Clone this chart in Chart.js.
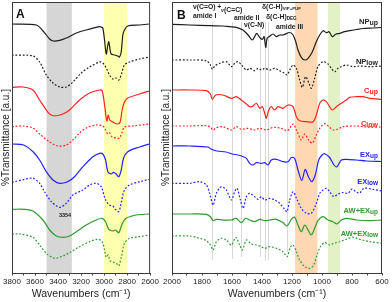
<!DOCTYPE html>
<html><head><meta charset="utf-8">
<script src="https://cdn.jsdelivr.net/npm/chart.js@4.4.1/dist/chart.umd.min.js"></script>
<style>
html,body{margin:0;padding:0;background:#fff;}
#wrap{position:relative;width:392px;height:302px;overflow:hidden;background:#fff;}
canvas{position:absolute;top:0;}
#ca{left:0}
#cb{left:160px}
</style></head><body>
<div id="wrap"><canvas id="ca" width="160" height="302"></canvas><canvas id="cb" width="232" height="302"></canvas></div>
<script>
// ---------- tick labels ----------
const A_tickLabels = [3800, 3600, 3400, 3200, 3000, 2800, 2600];
const B_tickLabels = [2000, 1800, 1600, 1400, 1200, 1000, 800, 600];
// ---------- highlighted regions ----------
const A_bandRanges = [[3500, 3280], [3000, 2800]];
const B_bandRanges = [[1180, 1030], [960, 880]];
const B_markerLines = [1730, 1600, 1540, 1415, 1380, 1360, 1235];
const B_markerTop = [251, 251, 251, 251, 251, 251, 241];
const B_markerBottom = [13, 14, 16, 16, 12, 13, 21];
// ---------- series names ----------
const seriesNames = ["NPup", "NPlow", "Cup", "Clow", "EXup", "EXlow", "AW+EXup", "AW+EXlow"];

// ---------- Panel A: 3800-2600 cm-1 ----------
const A_NPup_wn = [3800,3588,3530,3473,3442,3386,3328,3241,3155,3039,3025,3011,2996,2981,2967,2959,2947,2938,2909,2881,2866,2851,2837,2823,2794,2692,2606];
const A_NPup_T  = [249,248,242,234,232,232.7,235,240,243,246.3,246,245,233,219,228,231.3,223,219,218,217,216,221,238,243,247,248,249];

const A_NPlow_wn = [3800,3617,3560,3502,3444,3386,3328,3271,3198,3126,3039,3011,2981,2953,2924,2895,2872,2849,2823,2779,2692,2606];
const A_NPlow_T  = [218,217,211,198,190,186,186,191,200,206,211,210,205,198,194,195,193,199,208,211,214,216];

const A_Cup_wn = [3800,3705,3618,3560,3502,3473,3430,3358,3300,3213,3126,3039,3016,2996,2981,2975,2964,2950,2924,2881,2860,2843,2823,2794,2692,2606];
const A_Cup_T  = [185.7,186,183,173,163,159,157,159,163,173,180,183,182,168,155,152,158,153,151,149,151,163,171,175,179,182];

const A_Clow_wn = [3800,3705,3618,3560,3473,3401,3328,3271,3213,3155,3068,3011,2987,2967,2953,2930,2895,2866,2843,2823,2750,2606];
const A_Clow_T  = [146.3,147,145,139,131,127,128,133,140,145,148,147,143,139,140,136,135,135,141,146,147,149];

const A_EXup_wn = [3800,3700,3617,3560,3502,3444,3386,3328,3271,3184,3097,3039,3011,2987,2967,2938,2918,2895,2872,2851,2831,2794,2692,2606];
const A_EXup_T  = [129,128,121.3,113,101.3,93,89.7,90.7,94.7,106.3,116.3,119.7,119,113,101.3,99,100.7,99,96.3,103,114.7,121.3,126,129];

const A_EXlow_wn = [3800,3690,3618,3560,3517,3458,3386,3328,3271,3184,3126,3068,3025,2987,2953,2924,2895,2872,2849,2823,2779,2692,2606];
const A_EXlow_T  = [90.7,93.7,94.7,89.7,81.3,71.3,65.7,69.7,78,83,88,89.7,86.3,73,68,67,63,61.3,71.3,83,88,91.3,93.7];

const A_AWup_wn = [3800,3690,3618,3531,3473,3415,3358,3300,3241,3155,3068,3016,2987,2959,2924,2901,2872,2843,2808,2721,2606];
const A_AWup_T  = [63.7,63.7,62,53,43,37,35.7,37,41.3,48,53,54.7,51.3,43.7,42,43,40.3,49,54.7,58,59];

const A_AWlow_wn = [3800,3733,3618,3560,3502,3430,3358,3285,3213,3126,3054,3016,2996,2981,2964,2947,2909,2887,2872,2849,2823,2779,2692,2606];
const A_AWlow_T  = [38.7,39,35.7,28,19.7,14.7,17,21.3,26.3,31.3,33.7,31.3,23,15.7,18,12.3,10.3,9,7,16.3,29.7,34.7,36.3,38];

// ---------- Panel B: 2000-600 cm-1 ----------
const B_NPup_wn = [2000,1882,1749,1660,1615,1571,1527,1493,1465,1449,1435,1415,1398,1386,1375,1366,1349,1326,1304,1282,1260,1215,1193,1175,1160,1138,1115,1093,1064,1038,1015,993,971,953,931,909,882,849,815,771,727,660,600];
const B_NPup_T  = [248.7,248,247.3,247,246.3,245.7,243,238,233,236.3,239.7,235.5,233.7,236.3,225.5,234.7,236.7,239,236.3,238,238,240.5,238,231.3,223,215.7,213,214.7,221.3,231.3,238,242.3,240.3,241.3,236.3,238.7,239.7,241.3,242.3,243.5,244.5,245,245.5];

const B_NPlow_wn = [2000,1882,1771,1744,1731,1715,1682,1638,1604,1582,1560,1531,1504,1482,1449,1426,1404,1382,1349,1315,1282,1249,1233,1215,1193,1171,1149,1131,1109,1087,1071,1049,1027,993,960,938,915,893,871,838,793,749,682,600];
const B_NPlow_T  = [213,213,212.3,208,203.7,207,209.7,211.3,206.3,209.7,211.3,207,203,204.7,202.3,204.7,203,204.7,203,204.7,202.3,199.7,198,203,208,204.7,193,185.7,196.3,189.7,184.7,194.7,206.3,211.3,209,204.7,201.3,204.7,206.3,208,206.3,207,206.3,207];

const B_Cup_wn = [2000,1882,1771,1744,1731,1709,1660,1604,1571,1538,1504,1482,1460,1438,1415,1398,1382,1371,1355,1338,1315,1293,1260,1226,1193,1171,1149,1104,1060,1038,1015,993,971,949,931,904,871,838,815,771,727,682,600];
const B_Cup_T  = [183,183,182.3,179,173.7,178,178,174.7,176.3,173,169,166.3,167,169.7,164.7,166.3,159.7,154.7,163,166.3,163,166.3,164.7,168,166.3,156.3,152.3,151.3,151.3,158,169.7,173,171.3,166.3,163,166.3,169.7,173,175.7,176.3,176.3,174.7,173.7];

const B_Clow_wn = [2000,1882,1771,1744,1726,1704,1660,1604,1571,1538,1493,1449,1415,1371,1326,1271,1231,1193,1167,1138,1115,1087,1064,1038,1015,982,949,922,893,860,771,700,600];
const B_Clow_T  = [147,147,147.3,145.7,143,145.3,146.3,143,146.3,143.7,144.7,143,144.7,143,145.7,144.7,142.3,149,142,133,139,132.5,130,138,144.7,149.3,145.7,143,144,146.3,147,146,146];

const B_EXup_wn = [2000,1882,1760,1740,1700,1640,1600,1560,1520,1504,1482,1460,1438,1404,1382,1360,1338,1304,1260,1226,1204,1182,1160,1135,1112,1090,1068,1045,1022,1000,982,949,920,900,871,838,771,704,600];
const B_EXup_T  = [127,127,126,124,122,121,119,118,116,114.7,109.7,108,110.3,109.7,110.3,108,113,113.7,111.3,111.3,115.5,114.5,103,92.5,103.5,96,91.3,98,113,118,119.3,115.5,108,106.3,113,113.7,113,112,111.5];

const B_EXlow_wn = [2000,1882,1815,1771,1749,1726,1704,1671,1638,1604,1582,1566,1544,1526,1504,1482,1449,1426,1404,1382,1349,1315,1282,1249,1233,1215,1193,1171,1138,1104,1071,1042,1015,993,971,949,922,893,860,827,800,771,749,720,660,600];
const B_EXlow_T  = [89.7,89.7,91.3,88,79.7,68,79.7,86.3,83,73,81.3,84.7,73,64.7,76.3,79.7,76.3,73.7,76.3,73,74.7,73,69.7,63.7,61.3,73,81.3,75,64.7,59.7,59.7,68,79.7,83,84.7,81.3,76.5,79,80.5,79.7,84,81,80,84.7,83.7,82];

const B_AWup_wn = [2000,1882,1771,1744,1726,1704,1660,1604,1571,1538,1509,1482,1449,1415,1382,1349,1304,1260,1233,1204,1182,1160,1138,1115,1093,1071,1049,1027,993,960,927,900,871,838,771,682,600];
const B_AWup_T  = [59,59,58.7,56.3,52.3,53.7,53,53,54.7,50.3,54.7,53,51.3,53.7,52.3,53,53.7,50.3,47,53.7,55.7,48,41.3,48,43,38,44.7,52.3,56.3,53,51.3,49,53,54.7,53,52.3,53];

const B_AWlow_wn = [2000,1882,1815,1771,1744,1726,1704,1671,1638,1604,1575,1549,1531,1504,1471,1438,1415,1382,1349,1304,1260,1233,1211,1193,1171,1149,1115,1082,1055,1033,1011,982,949,922,882,838,793,749,682,600];
const B_AWlow_T  = [37,37,34.7,32.3,28,23,31.3,34.7,33,28,35.7,28,23,33,29,28,27,24.7,26.3,24.7,21.3,16.3,25.7,28,21.3,13,6.3,4.7,8,18,26.3,30.3,28,29.7,31.3,33.7,35.7,33.7,31.3,29.7];

// ---------- styling ----------
const C_BLACK = '#1e1e1e', C_RED = '#ff2222', C_BLUE = '#2222ff', C_GREEN = '#2e9a2e';
const FONT = '"Liberation Sans", Arial, sans-serif';

function ds(name, wn, t, color, dashed) {
  return {
    label: name,
    data: wn.map((x, i) => ({x: x, y: t[i]})),
    borderColor: color,
    borderWidth: 1.2,
    borderDash: dashed ? [1.8, 1.8] : [],
    pointRadius: 0,
    tension: 0.3,
    fill: false
  };
}

const boxPlugin = {
  id: 'box',
  afterDatasetsDraw(chart) {
    const {ctx, chartArea: a} = chart;
    ctx.save();
    ctx.strokeStyle = '#3a3a3a';
    ctx.lineWidth = 1;
    ctx.strokeRect(a.left + 0.5, a.top + 0.5, a.right - a.left - 1, a.bottom - a.top);
    ctx.restore();
  }
};

function bandPlugin(ranges, colors, lines) {
  return {
    id: 'bands',
    beforeDatasetsDraw(chart) {
      const {ctx, chartArea: a, scales} = chart;
      ctx.save();
      ranges.forEach((r, i) => {
        const x1 = scales.x.getPixelForValue(r[0]);
        const x2 = scales.x.getPixelForValue(r[1]);
        ctx.fillStyle = colors[i];
        ctx.fillRect(Math.min(x1, x2), a.top, Math.abs(x2 - x1), a.bottom - a.top);
      });
      if (lines) {
        ctx.strokeStyle = '#d8d8d8';
        ctx.lineWidth = 1;
        lines.forEach((w, i) => {
          const x = Math.round(scales.x.getPixelForValue(w)) + 0.5;
          ctx.beginPath();
          ctx.moveTo(x, scales.y.getPixelForValue(B_markerTop[i]));
          ctx.lineTo(x, scales.y.getPixelForValue(B_markerBottom[i]));
          ctx.stroke();
        });
      }
      ctx.restore();
    }
  };
}

function subText(ctx, xRight, y, main, sub, color, mainSize, subSize) {
  ctx.font = 'bold ' + mainSize + 'px ' + FONT;
  const w1 = ctx.measureText(main).width;
  ctx.font = 'bold ' + subSize + 'px ' + FONT;
  const w2 = ctx.measureText(sub).width;
  const x0 = xRight - w1 - w2;
  ctx.fillStyle = color;
  ctx.textAlign = 'left';
  ctx.textBaseline = 'alphabetic';
  ctx.font = 'bold ' + mainSize + 'px ' + FONT;
  ctx.fillText(main, x0, y);
  ctx.font = 'bold ' + subSize + 'px ' + FONT;
  ctx.fillText(sub, x0 + w1, y + 1.2);
}

function leftSub(ctx, x, y, main, sub, mainSize, subSize) {
  ctx.font = 'bold ' + mainSize + 'px ' + FONT;
  ctx.textAlign = 'left';
  ctx.fillText(main, x, y);
  const w = ctx.measureText(main).width;
  ctx.font = 'bold ' + subSize + 'px ' + FONT;
  ctx.fillText(sub, x + w, y + 1.5);
}

const textA = {
  id: 'textA',
  afterDraw(chart) {
    const ctx = chart.ctx;
    ctx.save();
    ctx.fillStyle = '#111';
    ctx.font = 'bold 12px ' + FONT;
    ctx.textBaseline = 'alphabetic';
    ctx.fillText('A', 16, 17.5);
    ctx.font = 'bold 5.5px ' + FONT;
    ctx.textAlign = 'center';
    ctx.textBaseline = 'middle';
    ctx.fillStyle = '#222';
    ctx.fillText('3354', 65, 215);
    ctx.restore();
  }
};

const textB = {
  id: 'textB',
  afterDraw(chart) {
    const ctx = chart.ctx;
    const ox = -160;
    ctx.save();
    ctx.fillStyle = '#111';
    ctx.textBaseline = 'alphabetic';
    ctx.font = 'bold 12px ' + FONT;
    ctx.fillText('B', 177 + ox, 18.5);
    ctx.fillStyle = '#222';
    ctx.font = 'bold 6.8px ' + FONT;
    ctx.fillText('\u03bd(C=O) +', 193 + ox, 8.5);
    ctx.font = 'bold 5.2px ' + FONT;
    ctx.fillText('\u03bd', 221 + ox, 11.5);
    ctx.font = 'bold 6.8px ' + FONT;
    ctx.fillText('(C=C)', 224 + ox, 11.5);
    ctx.fillText('amide I', 193 + ox, 17.5);
    ctx.fillText('amide II', 234 + ox, 19.8);
    ctx.fillText('\u03bd(C-N)', 244 + ox, 26.5);
    leftSub(ctx, 262 + ox, 8.5, '\u03b4(C-H)', 'VIP+PUF', 6.8, 4.3);
    leftSub(ctx, 266 + ox, 18.5, '\u03b4(C-H)', 'DEG', 6.8, 4.6);
    ctx.font = 'bold 6.8px ' + FONT;
    ctx.fillText('amide III', 276 + ox, 29);
    const xr = 378 + ox;
    subText(ctx, xr, 23.5, 'NP', 'up', C_BLACK, 7.5, 7);
    subText(ctx, xr, 63.5, 'NP', 'low', C_BLACK, 7.5, 7);
    subText(ctx, xr, 93, 'C', 'up', C_RED, 7.5, 7);
    subText(ctx, xr, 125.8, 'C', 'low', C_RED, 7.5, 7);
    subText(ctx, xr, 156.5, 'EX', 'up', C_BLUE, 7.5, 6.5);
    subText(ctx, xr, 183.5, 'EX', 'low', C_BLUE, 7.5, 6.5);
    subText(ctx, xr, 212.5, 'AW+EX', 'up', C_GREEN, 7.5, 6.5);
    subText(ctx, xr, 235.8, 'AW+EX', 'low', C_GREEN, 7.5, 6.5);
    ctx.restore();
  }
};

function makeOptions(xmin, xmax, labels, rightPad) {
  return {
    responsive: false,
    animation: false,
    devicePixelRatio: 1,
    layout: {padding: {left: 0, right: rightPad, top: 2, bottom: 0}},
    plugins: {legend: {display: false}, tooltip: {enabled: false}},
    scales: {
      x: {
        type: 'linear', reverse: true, min: xmin, max: xmax,
        afterFit: s => { s.height = 29; },
        ticks: {
          stepSize: 100, autoSkip: false, maxRotation: 0, padding: 1,
          color: '#222', font: {size: 8, family: FONT},
          callback: v => labels.includes(v) ? String(v) : ''
        },
        grid: {display: true, drawOnChartArea: false, drawTicks: true, tickLength: 2.5, color: '#444'},
        border: {display: false},
        title: {display: true, text: 'Wavenumbers (cm\u207b\u00b9)', color: '#222', font: {size: 10.5, family: FONT}, padding: {top: 0, bottom: 2}}
      },
      y: {
        type: 'linear', min: 0, max: 271,
        afterFit: s => { s.width = 12; },
        ticks: {display: false},
        grid: {display: false},
        border: {display: false},
        title: {display: true, text: '%Transmittance [a.u.]', color: '#222', font: {size: 10, family: FONT}, padding: {top: 0.5, bottom: 0}}
      }
    }
  };
}

new Chart(document.getElementById('ca'), {
  type: 'line',
  data: {datasets: [
    ds(seriesNames[0], A_NPup_wn, A_NPup_T, C_BLACK, false),
    ds(seriesNames[1], A_NPlow_wn, A_NPlow_T, C_BLACK, true),
    ds(seriesNames[2], A_Cup_wn, A_Cup_T, C_RED, false),
    ds(seriesNames[3], A_Clow_wn, A_Clow_T, C_RED, true),
    ds(seriesNames[4], A_EXup_wn, A_EXup_T, C_BLUE, false),
    ds(seriesNames[5], A_EXlow_wn, A_EXlow_T, C_BLUE, true),
    ds(seriesNames[6], A_AWup_wn, A_AWup_T, C_GREEN, false),
    ds(seriesNames[7], A_AWlow_wn, A_AWlow_T, C_GREEN, true)
  ]},
  options: makeOptions(2600, 3800, A_tickLabels, 9),
  plugins: [bandPlugin(A_bandRanges, ['#d6d6d6', '#ffffb0'], null), boxPlugin, textA]
});

new Chart(document.getElementById('cb'), {
  type: 'line',
  data: {datasets: [
    ds(seriesNames[0], B_NPup_wn, B_NPup_T, C_BLACK, false),
    ds(seriesNames[1], B_NPlow_wn, B_NPlow_T, C_BLACK, true),
    ds(seriesNames[2], B_Cup_wn, B_Cup_T, C_RED, false),
    ds(seriesNames[3], B_Clow_wn, B_Clow_T, C_RED, true),
    ds(seriesNames[4], B_EXup_wn, B_EXup_T, C_BLUE, false),
    ds(seriesNames[5], B_EXlow_wn, B_EXlow_T, C_BLUE, true),
    ds(seriesNames[6], B_AWup_wn, B_AWup_T, C_GREEN, false),
    ds(seriesNames[7], B_AWlow_wn, B_AWlow_T, C_GREEN, true)
  ]},
  options: makeOptions(600, 2000, B_tickLabels, 10),
  plugins: [bandPlugin(B_bandRanges, ['#fdd8b2', '#e2f2c6'], B_markerLines), boxPlugin, textB]
});
</script>
</body></html>
